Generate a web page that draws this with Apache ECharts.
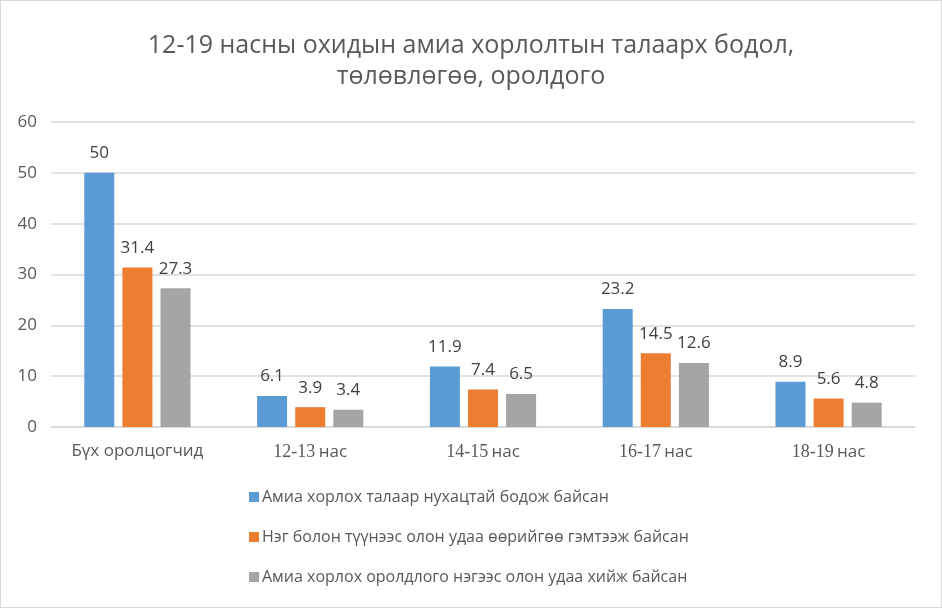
<!DOCTYPE html>
<html>
<head>
<meta charset="utf-8">
<script src="https://cdn.jsdelivr.net/npm/echarts@6/dist/echarts.min.js"></script>
<style>
  html, body { margin: 0; padding: 0; background: #fff; }
  #chart { width: 940px; height: 606px; border: 1px solid #d9d9d9; }
</style>
</head>
<body>
<div id="chart"></div>
<script>
// Ангилал ба цувааны утгууд
const categories = ['Бүх оролцогчид', '12-13 нас', '14-15 нас', '16-17 нас', '18-19 нас'];
const seriesNames = [
  'Амиа хорлох талаар нухацтай бодож байсан',
  'Нэг болон түүнээс олон удаа өөрийгөө гэмтээж байсан',
  'Амиа хорлох оролдлого нэгээс олон удаа хийж байсан'
];
const thought = [50, 6.1, 11.9, 23.2, 8.9];
const selfHarm = [31.4, 3.9, 7.4, 14.5, 5.6];
const attempt = [27.3, 3.4, 6.5, 12.6, 4.8];
const colors = ['#5b9bd5', '#ed7d31', '#a5a5a5'];

const sans = '"Open Sans", "Noto Sans", sans-serif';

const chart = echarts.init(document.getElementById('chart'), null, { renderer: 'canvas' });

function makeSeries(name, data, color) {
  return {
    name: name,
    type: 'bar',
    data: data,
    barWidth: 30,
    barGap: '27%',
    itemStyle: { color: color },
    label: {
      show: true,
      position: 'top',
      distance: 11,
      color: '#404040',
      fontSize: 17,
      fontFamily: sans
    }
  };
}

chart.setOption({
  animation: false,
  color: colors,
  title: {
    text: '12-19 насны охидын амиа хорлолтын талаарх бодол,\nтөлөвлөгөө, оролдого',
    left: 'center',
    top: 24,
    textStyle: {
      color: '#595959',
      fontSize: 25,
      fontWeight: 'normal',
      fontFamily: sans,
      lineHeight: 31
    }
  },
  grid: { left: 50, right: 26, top: 121, bottom: 180, containLabel: false },
  legend: {
    orient: 'vertical',
    left: 243,
    top: 483,
    itemWidth: 10,
    itemHeight: 10,
    itemGap: 24,
    icon: 'rect',
    textStyle: { color: '#595959', fontSize: 16, fontFamily: sans, padding: [0, 0, 0, -2] },
    data: seriesNames
  },
  xAxis: {
    type: 'category',
    data: categories,
    axisTick: { show: false },
    axisLine: { lineStyle: { color: '#d9d9d9', width: 1.5 } },
    axisLabel: {
      margin: 16,
      formatter: function (v) {
        const m = v.match(/^([\d-]+)\s(.*)$/);
        if (m) return '{num|' + m[1] + '} {txt|' + m[2] + '}';
        return '{txt|' + v + '}';
      },
      rich: {
        num: { fontFamily: '"Liberation Serif", serif', fontSize: 18, color: '#595959' },
        txt: { fontFamily: sans, fontSize: 17, color: '#595959' }
      }
    }
  },
  yAxis: {
    type: 'value',
    min: 0,
    max: 60,
    interval: 10,
    axisLine: { show: false },
    axisTick: { show: false },
    splitLine: { lineStyle: { color: '#d9d9d9', width: 1.5 } },
    axisLabel: { color: '#595959', fontSize: 17, fontFamily: sans, margin: 14 }
  },
  series: [
    makeSeries(seriesNames[0], thought, colors[0]),
    makeSeries(seriesNames[1], selfHarm, colors[1]),
    makeSeries(seriesNames[2], attempt, colors[2])
  ]
});
</script>
</body>
</html>
